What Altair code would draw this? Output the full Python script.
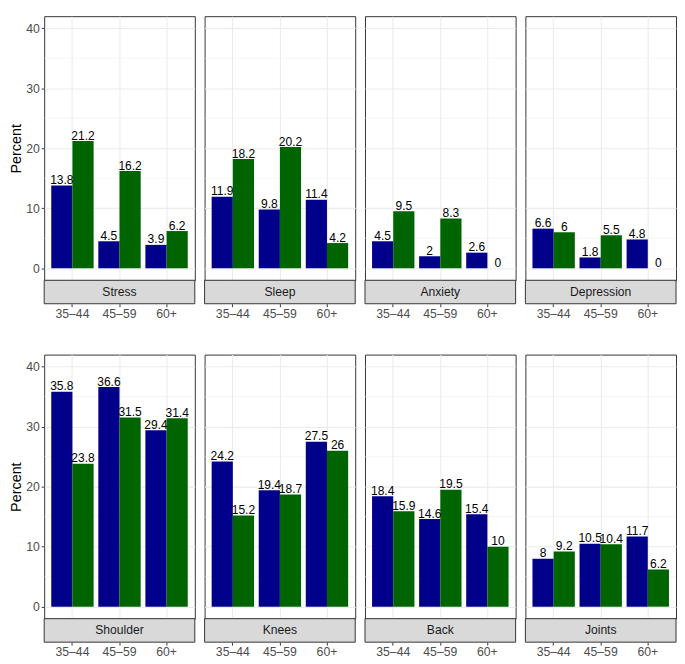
import altair as alt
import pandas as pd

ages = ["35–44", "45–59", "60+"]
groups = ["A", "B"]
top_conditions = ["Stress", "Sleep", "Anxiety", "Depression"]
bottom_conditions = ["Shoulder", "Knees", "Back", "Joints"]

# values by age group (35–44, 45–59, 60+)
blue_values = {
    "Stress": [13.8, 4.5, 3.9],
    "Sleep": [11.9, 9.8, 11.4],
    "Anxiety": [4.5, 2, 2.6],
    "Depression": [6.6, 1.8, 4.8],
    "Shoulder": [35.8, 36.6, 29.4],
    "Knees": [24.2, 19.4, 27.5],
    "Back": [18.4, 14.6, 15.4],
    "Joints": [8, 10.5, 11.7],
}
green_values = {
    "Stress": [21.2, 16.2, 6.2],
    "Sleep": [18.2, 20.2, 4.2],
    "Anxiety": [9.5, 8.3, 0],
    "Depression": [6, 5.5, 0],
    "Shoulder": [23.8, 31.5, 31.4],
    "Knees": [15.2, 18.7, 26],
    "Back": [15.9, 19.5, 10],
    "Joints": [9.2, 10.4, 6.2],
}
y_ticks = [0, 10, 20, 30, 40]
y_minor = [5, 15, 25, 35]

rows = []
for cond in top_conditions + bottom_conditions:
    for i, age in enumerate(ages):
        for g, src in zip(groups, [blue_values, green_values]):
            v = src[cond][i]
            rows.append({"condition": cond, "age": age, "group": g,
                         "value": v, "label": f"{v:g}"})
df = pd.DataFrame(rows)

W, H, STRIP = 154, 270, 24
NAVY, GREEN = "#00008B", "#006400"
GRID = "#EBEBEB"
ydom = [-2, 42]


def panel(cond, first):
    d = df[df.condition == cond]
    base = alt.Chart(d)
    x = alt.X("age:N", sort=ages, title=None,
              scale=alt.Scale(paddingInner=0.1, paddingOuter=0.15),
              axis=alt.Axis(offset=STRIP, domain=False, tickColor="#333333",
                            tickSize=3, labelColor="#4D4D4D", labelFontSize=12.5,
                            labelPadding=1, grid=True, gridColor=GRID,
                            gridWidth=1.07, bandPosition=0.5, labelAngle=0))
    if first:
        yaxis = alt.Axis(values=y_ticks, title="Percent", domain=False,
                         tickColor="#333333", tickSize=3, labelColor="#4D4D4D",
                         labelFontSize=12.5, labelPadding=2, grid=True,
                         gridColor=GRID, gridWidth=1.07, titleFontSize=14.7,
                         titleColor="black", titleFontWeight="normal",
                         titlePadding=2)
    else:
        yaxis = alt.Axis(values=y_ticks, title=None, labels=False, ticks=False,
                         domain=False, grid=True, gridColor=GRID, gridWidth=1.07)
    yscale = alt.Scale(domain=ydom, nice=False, zero=False)
    y = alt.Y("value:Q", scale=yscale, axis=yaxis)

    minor = alt.Chart(pd.DataFrame({"value": y_minor})).mark_rule(
        color=GRID, strokeWidth=0.53).encode(y=y)
    bars = base.mark_bar().encode(
        x=x, y=y,
        xOffset=alt.XOffset("group:N", sort=groups),
        color=alt.Color("group:N", scale=alt.Scale(domain=groups, range=[NAVY, GREEN]),
                        legend=None),
    )
    labels = base.mark_text(baseline="alphabetic", dy=-1.5, fontSize=12.3,
                            color="black").encode(
        x=x, y=y, xOffset=alt.XOffset("group:N", sort=groups), text="label:N")
    sdf = pd.DataFrame({"label": [cond]})
    strip_rect = alt.Chart(sdf).mark_rect(fill="#D9D9D9", stroke="#333333",
                                          strokeWidth=1).encode(
        x=alt.value(0), x2=alt.value(W), y=alt.value(H), y2=alt.value(H + STRIP))
    strip_text = alt.Chart(sdf).mark_text(fontSize=12.4, color="#1A1A1A",
                                          baseline="middle").encode(
        x=alt.value(W / 2), y=alt.value(H + STRIP / 2), text="label:N")
    return alt.layer(minor, bars, labels, strip_rect, strip_text).properties(
        width=W, height=H)


row1 = alt.hconcat(*[panel(c, i == 0) for i, c in enumerate(top_conditions)], spacing=8)
row2 = alt.hconcat(*[panel(c, i == 0) for i, c in enumerate(bottom_conditions)], spacing=8)

chart = alt.vconcat(row1, row2, spacing=34).properties(padding=0).configure(
    font="Liberation Sans"
).configure_view(stroke="#333333", strokeWidth=1)

chart.save("out.html", embed_options={"renderer": "svg", "actions": False})
